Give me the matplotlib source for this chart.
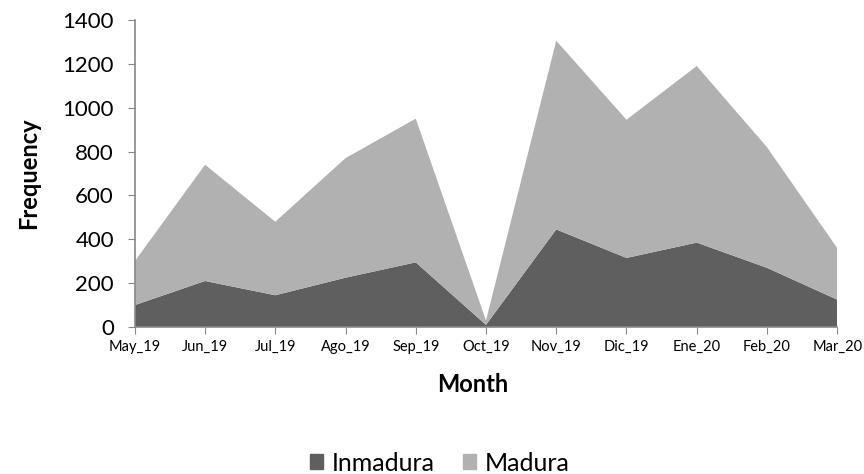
import numpy as np
import matplotlib
matplotlib.use("Agg")
import matplotlib.pyplot as plt
from matplotlib.patches import Patch

months = ["May_19", "Jun_19", "Jul_19", "Ago_19", "Sep_19", "Oct_19",
          "Nov_19", "Dic_19", "Ene_20", "Feb_20", "Mar_20"]
inmadura = [100, 210, 145, 225, 295, 10, 445, 315, 385, 270, 125]
madura = [200, 530, 335, 545, 655, 20, 860, 630, 805, 550, 235]

dark = "#5f5f5f"
light = "#b1b1b1"

plt.rcParams['font.family'] = ['Lato', 'DejaVu Sans']

fig = plt.figure(figsize=(8.64, 4.74), dpi=100)
ax = fig.add_axes([0.156, 0.310, 0.813, 0.648])

x = np.arange(len(months))
ax.stackplot(x, inmadura, madura, colors=[dark, light], linewidth=0)

ax.set_xlim(0, len(months) - 1)
ax.set_ylim(0, 1400)
ax.set_yticks(range(0, 1401, 200))
ax.set_xticks(x)
ax.set_xticklabels(months, fontsize=10.5)
ax.tick_params(axis='y', labelsize=16, length=5, color="#888888", pad=10)
ax.tick_params(axis='x', length=5, color="#888888", pad=4)

for s in ["top", "right"]:
    ax.spines[s].set_visible(False)
for s in ["left", "bottom"]:
    ax.spines[s].set_color("#888888")
    ax.spines[s].set_linewidth(1.2)

ax.set_ylabel("Frequency", fontsize=17, fontweight="bold")
ax.yaxis.set_label_coords(-0.135, 0.5)
ax.set_xlabel("Month", fontsize=17, fontweight="bold")
ax.xaxis.set_label_coords(0.481, -0.150)

handles = [Patch(color=dark, label="Inmadura"), Patch(color=light, label="Madura")]
fig.legend(handles=handles, loc="center", bbox_to_anchor=(0.509, 0.023), ncol=2,
           frameon=False, fontsize=18, handlelength=0.55, handleheight=0.55,
           columnspacing=1.1, handletextpad=0.35)

fig.savefig("out.png", dpi=100)
